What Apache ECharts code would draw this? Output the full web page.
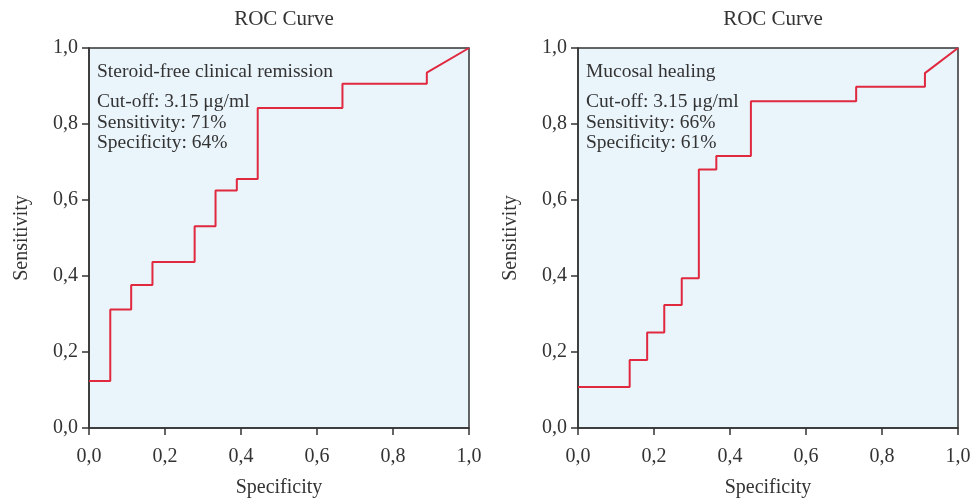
<!DOCTYPE html>
<html>
<head>
<meta charset="utf-8">
<script src="https://cdn.jsdelivr.net/npm/echarts@6/dist/echarts.min.js"></script>
<style>
  html, body { margin: 0; padding: 0; background: #fff; }
  #chart { width: 976px; height: 500px; }
</style>
</head>
<body>
<div id="chart"></div>
<script>
// step corners of each ROC curve (x = specificity axis, y = sensitivity)
const remissionX = [0, 0.056, 0.111, 0.167, 0.278, 0.333, 0.389, 0.444, 0.667, 0.889];
const remissionY = [0.124, 0.312, 0.376, 0.437, 0.531, 0.625, 0.655, 0.842, 0.906, 0.935];
const healingX = [0, 0.136, 0.182, 0.227, 0.273, 0.318, 0.364, 0.455, 0.732, 0.913];
const healingY = [0.108, 0.179, 0.251, 0.324, 0.394, 0.680, 0.716, 0.860, 0.898, 0.934];
const endPoint = [1, 1];

const panelTitle = 'ROC Curve';
const notes = [
  ['Steroid-free clinical remission', 'Cut-off: 3.15 μg/ml', 'Sensitivity: 71%', 'Specificity: 64%'],
  ['Mucosal healing', 'Cut-off: 3.15 μg/ml', 'Sensitivity: 66%', 'Specificity: 61%']
];

const FONT = '"Liberation Serif", "DejaVu Serif", serif';
const INK = '#333';
const RED = '#e0283f';

function stepPath(xs, ys) {
  const pts = [[xs[0], ys[0]]];
  for (let i = 1; i < xs.length; i++) {
    pts.push([xs[i], ys[i - 1]]);
    pts.push([xs[i], ys[i]]);
  }
  pts.push(endPoint);
  return pts;
}

const fmt = v => v.toFixed(1).replace('.', ',');

const grids = [
  { left: 89, top: 48, width: 380, height: 380 },
  { left: 578, top: 48, width: 380, height: 380 }
];

function axisCommon(name, isY) {
  return {
    type: 'value', min: 0, max: 1, interval: 0.2,
    name: name, nameLocation: 'middle',
    nameGap: isY ? 57 : 50,
    nameTextStyle: { fontFamily: FONT, fontSize: 20, color: INK },
    axisLine: { show: true, lineStyle: { color: INK, width: 1.5 } },
    axisTick: { show: true, length: 7, lineStyle: { color: INK, width: 1.5 } },
    axisLabel: { formatter: fmt, fontFamily: FONT, fontSize: 20, color: INK, margin: isY ? 11 : 19 },
    splitLine: { show: false }
  };
}

const chart = echarts.init(document.getElementById('chart'));

const graphicTexts = [];
notes.forEach((lines, g) => {
  const left = grids[g].left + 8;
  const tops = [62, 92, 113, 133];
  lines.forEach((t, i) => {
    graphicTexts.push({
      type: 'text', left: left, top: tops[i],
      style: { text: t, font: '19.5px ' + FONT, fill: INK }
    });
  });
});

chart.setOption({
  animation: false,
  title: grids.map(g => ({
    text: panelTitle,
    left: g.left + g.width / 2, top: 4, textAlign: 'center',
    textStyle: { fontFamily: FONT, fontSize: 21, fontWeight: 'normal', color: INK }
  })),
  grid: grids.map(g => Object.assign({
    show: true, backgroundColor: '#eaf4fb', borderColor: INK, borderWidth: 1.5,
    containLabel: false, outerBoundsMode: 'none'
  }, g)),
  xAxis: [0, 1].map(i => Object.assign(axisCommon('Specificity', false), { gridIndex: i })),
  yAxis: [0, 1].map(i => Object.assign(axisCommon('Sensitivity', true), { gridIndex: i })),
  series: [
    { type: 'line', xAxisIndex: 0, yAxisIndex: 0, data: stepPath(remissionX, remissionY) },
    { type: 'line', xAxisIndex: 1, yAxisIndex: 1, data: stepPath(healingX, healingY) }
  ].map(s => Object.assign(s, {
    symbol: 'none', lineStyle: { color: RED, width: 2 }
  })),
  graphic: graphicTexts
});
</script>
</body>
</html>
